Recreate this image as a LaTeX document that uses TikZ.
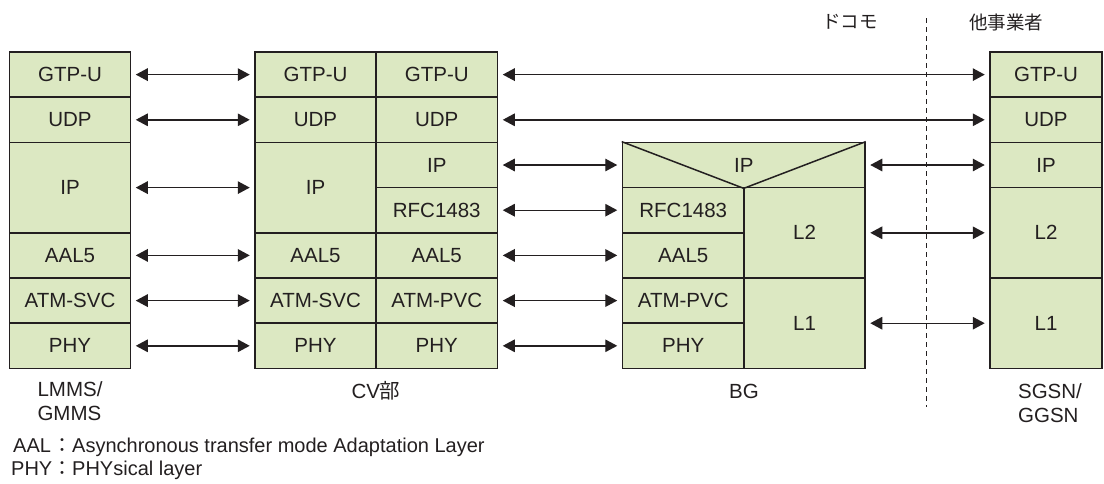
\documentclass[tikz,border=0pt]{standalone}
\usepackage{fontspec}
\setmainfont{Liberation Sans}
\newfontfamily\jp{Noto Sans CJK JP}
\usetikzlibrary{arrows.meta}
\definecolor{cellfill}{RGB}{220,232,194}
\definecolor{ink}{RGB}{35,31,32}
\newcommand\cellnode[6]{\node[cell, minimum width={(#4)-(#2)}, minimum height={(#5)-(#3)}] (#1) at ({((#2)+(#4))/2},{((#3)+(#5))/2}) {#6};}
\begin{document}
\begin{tikzpicture}[x=1pt,y=-1pt,
  cell/.style={draw=ink, fill=cellfill, line width=1.5pt, inner sep=0pt, text=ink, font=\fontsize{20.5}{24}\selectfont},
  conn/.style={draw=ink, line width=1.4pt, {Triangle[length=12pt,width=12.5pt]}-{Triangle[length=12pt,width=12.5pt]}, shorten <=4.5pt, shorten >=4.5pt},
  lbl/.style={text=ink, inner sep=0pt, font=\fontsize{20.5}{24}\selectfont, align=left},
  jplbl/.style={text=ink, inner sep=0pt, font=\jp\fontsize{18.5}{22}\selectfont},
  note/.style={text=ink, inner sep=0pt, anchor=west, font=\fontsize{20}{24}\selectfont},
  divider/.style={draw=ink, line width=1pt, dash pattern=on 5pt off 4pt}]
\useasboundingbox (0,0) rectangle (1104,483);
% LMMS/GMMS
\cellnode{lgtp}{9.5}{52}{130.5}{97.2}{GTP-U}
\cellnode{ludp}{9.5}{97.2}{130.5}{142.4}{UDP}
\cellnode{lip}{9.5}{142.4}{130.5}{232.8}{IP}
\cellnode{laal}{9.5}{232.8}{130.5}{278}{AAL5}
\cellnode{latm}{9.5}{278}{130.5}{323.2}{ATM-SVC}
\cellnode{lphy}{9.5}{323.2}{130.5}{368.4}{PHY}
% CV left
\cellnode{vgtp}{255}{52}{376}{97.2}{GTP-U}
\cellnode{vudp}{255}{97.2}{376}{142.4}{UDP}
\cellnode{vip}{255}{142.4}{376}{232.8}{IP}
\cellnode{vaal}{255}{232.8}{376}{278}{AAL5}
\cellnode{vatm}{255}{278}{376}{323.2}{ATM-SVC}
\cellnode{vphy}{255}{323.2}{376}{368.4}{PHY}
% CV right
\cellnode{cgtp}{376}{52}{497.5}{97.2}{GTP-U}
\cellnode{cudp}{376}{97.2}{497.5}{142.4}{UDP}
\cellnode{cip}{376}{142.4}{497.5}{187.6}{IP}
\cellnode{crfc}{376}{187.6}{497.5}{232.8}{RFC1483}
\cellnode{caal}{376}{232.8}{497.5}{278}{AAL5}
\cellnode{catm}{376}{278}{497.5}{323.2}{ATM-PVC}
\cellnode{cphy}{376}{323.2}{497.5}{368.4}{PHY}
% BG
\cellnode{bip}{622.5}{142.4}{865}{187.6}{IP}
\cellnode{brfc}{622.5}{187.6}{744}{232.8}{RFC1483}
\cellnode{baal}{622.5}{232.8}{744}{278}{AAL5}
\cellnode{batm}{622.5}{278}{744}{323.2}{ATM-PVC}
\cellnode{bphy}{622.5}{323.2}{744}{368.4}{PHY}
\cellnode{bltwo}{744}{187.6}{865}{278}{L2}
\cellnode{blone}{744}{278}{865}{368.4}{L1}
\draw[draw=ink, line width=1.5pt] (bip.north west) -- (bip.south) -- (bip.north east);
% SGSN/GGSN
\cellnode{sgtp}{990}{52}{1102}{97.2}{GTP-U}
\cellnode{sudp}{990}{97.2}{1102}{142.4}{UDP}
\cellnode{sip}{990}{142.4}{1102}{187.6}{IP}
\cellnode{sltwo}{990}{187.6}{1102}{278}{L2}
\cellnode{slone}{990}{278}{1102}{368.4}{L1}
% connectors
\draw[conn] (lgtp.east) -- (vgtp.west);
\draw[conn] (ludp.east) -- (vudp.west);
\draw[conn] (lip.east) -- (vip.west);
\draw[conn] (laal.east) -- (vaal.west);
\draw[conn] (latm.east) -- (vatm.west);
\draw[conn] (lphy.east) -- (vphy.west);
\draw[conn] (cgtp.east) -- (sgtp.west);
\draw[conn] (cudp.east) -- (sudp.west);
\draw[conn] (cip.east) -- (bip.west);
\draw[conn] (crfc.east) -- (brfc.west);
\draw[conn] (caal.east) -- (baal.west);
\draw[conn] (catm.east) -- (batm.west);
\draw[conn] (cphy.east) -- (bphy.west);
\draw[conn] (bip.east) -- (sip.west);
\draw[conn] (bltwo.east) -- (sltwo.west);
\draw[conn] (blone.east) -- (slone.west);
% labels
\node[lbl] (lname) at (70,401) {LMMS/\\GMMS};
\node[lbl] (cvname) at (376,391) {CV{\jp 部}};
\node[lbl] (bgname) at (744,391) {BG};
\node[lbl] (sname) at (1050,403) {SGSN/\\GGSN};
\node[jplbl] (docomo) at (850,22) {ドコモ};
\node[jplbl] (other) at (1006,22) {他事業者};
\coordinate (dtop) at (926,18);
\coordinate (dbot) at (926,407);
\draw[divider] (dtop) -- (dbot);
% footnotes
\node[note] (noteaal) at (13,447) {\makebox[39pt][l]{AAL}{\jp ：}Asynchronous transfer mode Adaptation Layer};
\node[note] (notephy) at (11,470) {\makebox[41pt][l]{PHY}{\jp ：}PHYsical layer};
\end{tikzpicture}
\end{document}
